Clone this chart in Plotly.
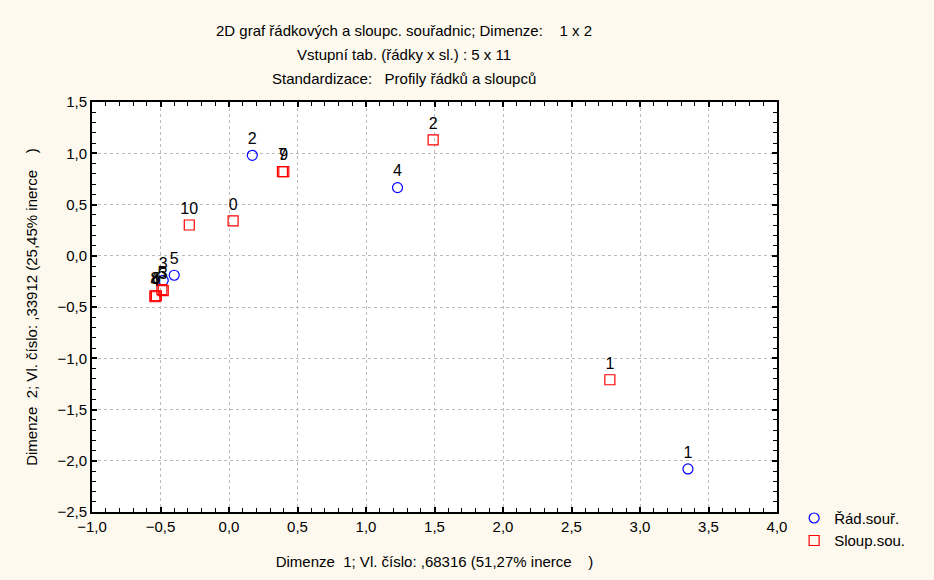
import plotly.graph_objects as go

# Row coordinates (Řád.souř.)
row_labels = ["1", "2", "3", "4", "5"]
row_dim1 = [3.35, 0.17, -0.48, 1.23, -0.40]
row_dim2 = [-2.08, 0.98, -0.24, 0.665, -0.19]

# Column coordinates (Sloup.sou.)
col_labels = ["0", "1", "2", "3", "4", "5", "6", "7", "8", "9", "10"]
col_dim1 = [0.03, 2.78, 1.49, -0.48, -0.54, -0.49, -0.53, 0.39, -0.54, 0.40, -0.29]
col_dim2 = [0.34, -1.21, 1.13, -0.34, -0.40, -0.33, -0.39, 0.82, -0.39, 0.82, 0.30]

x_ticks = [-1.0, -0.5, 0.0, 0.5, 1.0, 1.5, 2.0, 2.5, 3.0, 3.5, 4.0]
y_ticks = [-2.5, -2.0, -1.5, -1.0, -0.5, 0.0, 0.5, 1.0, 1.5]

title_lines = [
    "2D graf řádkových a sloupc. souřadnic; Dimenze:    1 x 2",
    "Vstupní tab. (řádky x sl.) : 5 x 11",
    "Standardizace:   Profily řádků a sloupců",
]
x_title = "Dimenze  1; Vl. číslo: ,68316 (51,27% inerce    )"
y_title = "Dimenze  2; Vl. číslo: ,33912 (25,45% inerce    )"

FONT = "Liberation Sans, Arial, sans-serif"

fig = go.Figure()
fig.add_trace(go.Scatter(
    x=row_dim1, y=row_dim2, mode="markers+text", name="Řád.souř.",
    text=row_labels, textposition="top center",
    textfont=dict(family=FONT, size=16, color="black"),
    marker=dict(symbol="circle-open", size=10, color="#0000FF", line=dict(width=1.2, color="#0000FF")),
))
fig.add_trace(go.Scatter(
    x=col_dim1, y=col_dim2, mode="markers+text", name="Sloup.sou.",
    text=col_labels, textposition="top center",
    textfont=dict(family=FONT, size=16, color="black"),
    marker=dict(symbol="square-open", size=10, color="#FF0000", line=dict(width=1.2, color="#FF0000")),
))

axis_common = dict(
    showline=True, linewidth=2, linecolor="black", mirror="ticks",
    ticks="inside", ticklen=5, tickwidth=1.5, tickcolor="black",
    showgrid=True, gridcolor="#BBBBBB", griddash="dot", gridwidth=1,
    zeroline=False, tickformat=".1f",
    tickfont=dict(family=FONT, size=15, color="black"),
    minor=dict(ticks="inside", ticklen=4, tickwidth=1.2, tickcolor="black", showgrid=False),
)

fig.update_xaxes(
    range=[-1.0, 4.0], tickvals=x_ticks, minor_dtick=0.1,
    title=dict(text=x_title, font=dict(family=FONT, size=15, color="black"), standoff=22),
    **axis_common,
)
fig.update_yaxes(
    range=[-2.5, 1.5], tickvals=y_ticks, minor_dtick=0.1,
    title=dict(text=y_title, font=dict(family=FONT, size=15, color="black"), standoff=16),
    **axis_common,
)

annotations = []
for i, (line, yy) in enumerate(zip(title_lines, [1.174, 1.117, 1.057])):
    annotations.append(dict(
        text=line, x=0.455, y=yy, xref="paper", yref="paper",
        showarrow=False, xanchor="center", yanchor="middle",
        font=dict(family=FONT, size=15, color="black"),
    ))

fig.update_layout(
    width=934, height=580,
    margin=dict(l=92, r=157, t=102, b=65),
    paper_bgcolor="#FDF9EE", plot_bgcolor="white",
    separators=", ",
    annotations=annotations,
    showlegend=True,
    legend=dict(
        x=1.025, y=0.025, xanchor="left", yanchor="top",
        bgcolor="rgba(0,0,0,0)", font=dict(family=FONT, size=15, color="black"),
        itemwidth=30, tracegroupgap=0,
    ),
)

fig.write_html("out.html")
